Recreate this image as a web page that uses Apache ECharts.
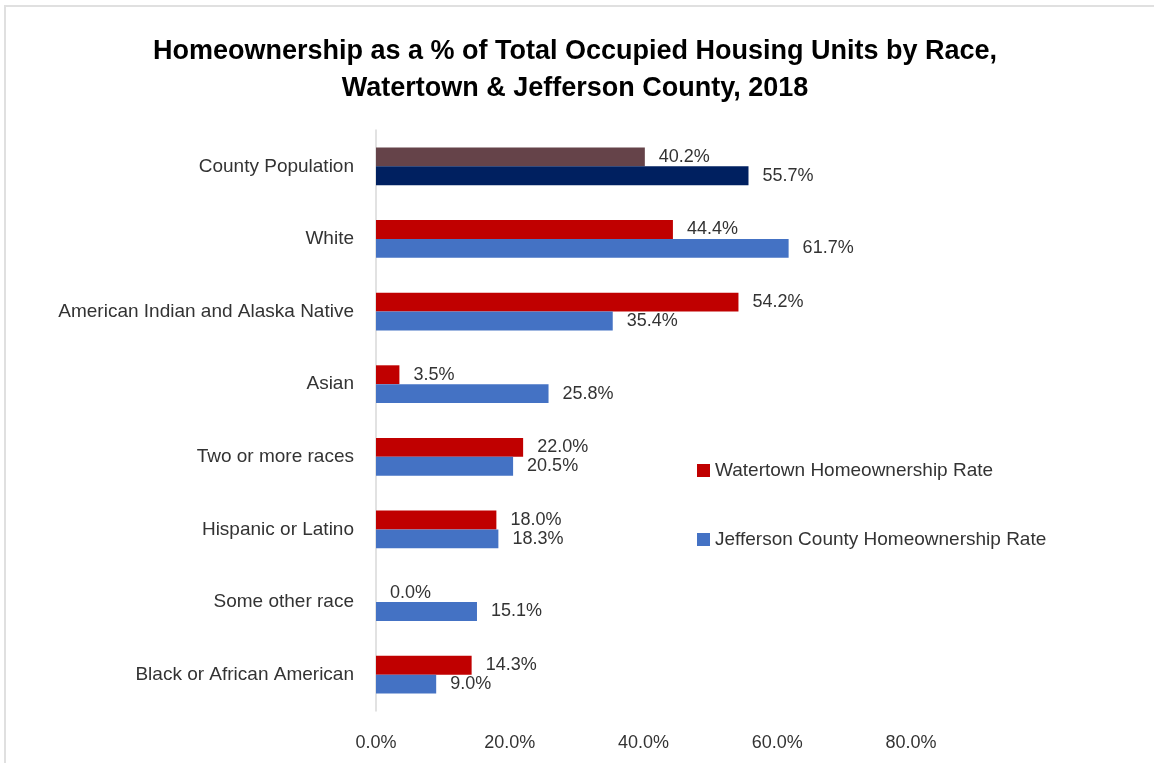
<!DOCTYPE html>
<html>
<head>
<meta charset="utf-8">
<script src="https://cdn.jsdelivr.net/npm/echarts@6/dist/echarts.min.js"></script>
<style>
    html, body { margin: 0; padding: 0; background: #fff; }
    #main { position: absolute; left: 0; top: 0; width: 1154px; height: 763px; }
    #frame { position: absolute; left: 4px; top: 5px; right: 0; bottom: 0;
             border-top: 2px solid #e0e0e0; border-left: 2px solid #e0e0e0; pointer-events: none; }
</style>
</head>
<body>
<div id="main"></div>
<div id="frame"></div>
<script>
var categories = ['County Population', 'White', 'American Indian and Alaska Native', 'Asian',
    'Two or more races', 'Hispanic or Latino', 'Some other race', 'Black or African American'];
var watertownRate = [40.2, 44.4, 54.2, 3.5, 22.0, 18.0, 0.0, 14.3];
var jeffersonRate = [55.7, 61.7, 35.4, 25.8, 20.5, 18.3, 15.1, 9.0];
var xTicks = [0, 20, 40, 60, 80];

var font = 'Liberation Sans';
var txt = '#333333';

// first row (County Population) has its own colours
function withFirstColor(values, color) {
    return values.map(function (v, i) {
        if (i == 0)
            return { value: v, itemStyle: { color: color } };
        return v;
    });
}

var labelOpt = {
    show: true,
    position: 'right',
    distance: 14,
    color: txt,
    fontFamily: font,
    fontSize: 18,
    formatter: function (p) { return p.value.toFixed(1) + '%'; }
};

var option = {
    animation: false,
    backgroundColor: '#fff',
    title: {
        text: 'Homeownership as a % of Total Occupied Housing Units by Race,\nWatertown & Jefferson County, 2018',
        left: 570,
        textAlign: 'center',
        top: 28,
        textStyle: { fontFamily: font, fontWeight: 'bold', fontSize: 27, lineHeight: 37, color: '#000' }
    },
    legend: {
        orient: 'vertical',
        left: 692,
        top: 456,
        itemGap: 50,
        itemWidth: 13,
        itemHeight: 13,
        icon: 'rect',
        textStyle: { fontFamily: font, fontSize: 19, color: txt },
        data: ['Watertown Homeownership Rate', 'Jefferson County Homeownership Rate']
    },
    grid: { left: 376, right: 243, top: 130, bottom: 52, containLabel: false },
    xAxis: {
        type: 'value',
        min: 0,
        max: 80,
        interval: 20,
        axisLine: { show: false },
        axisTick: { show: false },
        splitLine: { show: false },
        axisLabel: {
            margin: 23,
            color: txt,
            fontFamily: font,
            fontSize: 18,
            customValues: xTicks,
            formatter: function (v) { return v.toFixed(1) + '%'; }
        }
    },
    yAxis: {
        type: 'category',
        inverse: true,
        data: categories,
        axisLine: { show: true, lineStyle: { color: '#d9d9d9', width: 1.5 } },
        axisTick: { show: false },
        axisLabel: { margin: 22, color: txt, fontFamily: font, fontSize: 19 }
    },
    series: [
        {
            name: 'Watertown Homeownership Rate',
            type: 'bar',
            data: withFirstColor(watertownRate, '#654349'),
            itemStyle: { color: '#C00000' },
            barGap: '0%',
            barCategoryGap: '48%',
            label: labelOpt
        },
        {
            name: 'Jefferson County Homeownership Rate',
            type: 'bar',
            data: withFirstColor(jeffersonRate, '#002060'),
            itemStyle: { color: '#4472C4' },
            barGap: '0%',
            barCategoryGap: '48%',
            label: labelOpt
        }
    ]
};

var myChart = echarts.init(document.getElementById('main'));
myChart.setOption(option);
</script>
</body>
</html>
